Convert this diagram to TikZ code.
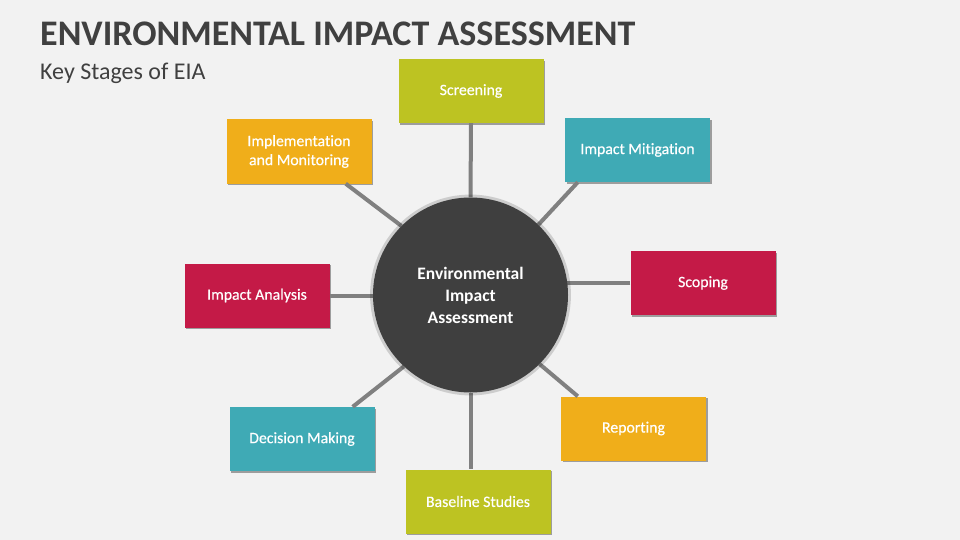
\documentclass[tikz,border=0pt]{standalone}
\usepackage{fontspec}
\setmainfont{Carlito}[Ligatures=NoCommon]
\newfontfamily\boxfont{Carlito}[Ligatures=NoCommon, FakeBold=0.4]
\usetikzlibrary{shadows,calc}
\definecolor{bg}{HTML}{F2F2F2}
\definecolor{olive}{HTML}{BDC322}
\definecolor{teal2}{HTML}{3FAAB5}
\definecolor{crim}{HTML}{C41A47}
\definecolor{orng}{HTML}{F0AE1A}
\definecolor{dark}{HTML}{3F3F3F}
\definecolor{titlec}{HTML}{404040}
\definecolor{linec}{HTML}{808080}
\tikzset{
  stagebox/.style={rectangle, minimum width=145pt, minimum height=64pt, inner sep=0pt,
    text=white, align=center, font=\boxfont\fontsize{15.8}{19}\selectfont,
    drop shadow={shadow xshift=1.8pt, shadow yshift=-1.8pt, fill=black, opacity=0.35}},
  hub/.style={circle, fill=dark, minimum size=195pt, inner sep=0pt, text=white, align=center,
    font=\bfseries\fontsize{17.5}{22}\selectfont,
    drop shadow={shadow xshift=0pt, shadow yshift=0pt, shadow scale=1.03, fill=black, opacity=0.15}},
  conn/.style={draw=linec, line width=4pt}
}
\begin{document}
\begin{tikzpicture}[x=1pt,y=-1pt]
\useasboundingbox[fill=bg] (0,0) rectangle (960,540);
\node[anchor=base west, inner sep=0pt, text=titlec, font=\bfseries\fontsize{36}{40}\selectfont] (title) at (40,46) {ENVIRONMENTAL IMPACT ASSESSMENT};
\node[anchor=base west, inner sep=0pt, text=titlec, font=\fontsize{24}{28}\selectfont] (sub) at (40,80) {Key Stages of EIA};
% invisible hub outline used for connector anchors
\path (470.5,295) node[circle, minimum size=195pt, inner sep=0pt] (c) {};
\node[stagebox, fill=olive] (scr) at (471,91) {Screening};
\node[stagebox, fill=teal2] (mit) at (637.5,150) {Impact Mitigation};
\node[stagebox, fill=crim] (sco) at (703,283) {Scoping};
\node[stagebox, fill=orng] (rep) at (633.5,428.5) {Reporting};
\node[stagebox, fill=olive] (bas) at (478,501.5) {Baseline Studies};
\node[stagebox, fill=teal2] (dec) at (302,439) {Decision Making};
\node[stagebox, fill=crim] (ana) at (257,295.5) {Impact Analysis};
\node[stagebox, fill=orng] (imp) at (299,151.5) {Implementation\\and Monitoring};
\draw[conn] (scr.south) -- (c.north);
\draw[conn] ($(mit.south west)+(13,0)$) -- (c.46);
\draw[conn] (sco.west) -- (sco.west -| c.east) -- +(-10,0);
\draw[conn] ($(rep.north west)+(17,0)$) -- (c.-45);
\draw[conn] (c.south) -- (c.south |- bas.north);
\draw[conn] ($(dec.north east)+(-22,0)$) -- (c.227);
\draw[conn] (ana.east) -- (ana.east -| c.west) -- +(10,0);
\draw[conn] ($(imp.south east)+(-26,0)$) -- (c.135);
\node[hub] (hubnode) at (c.center) {Environmental\\Impact\\Assessment};
\end{tikzpicture}
\end{document}
